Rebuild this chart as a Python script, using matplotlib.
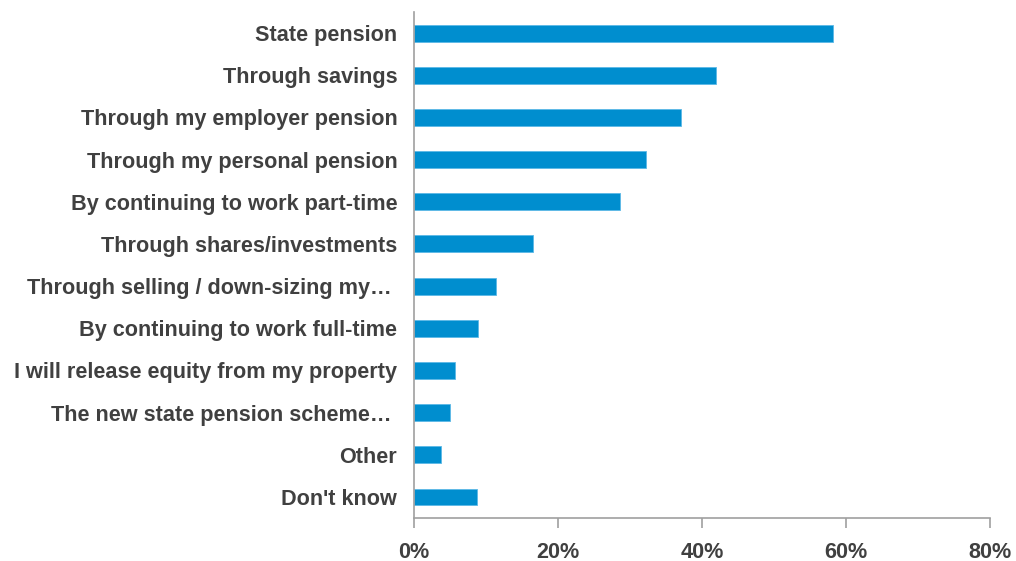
import numpy as np
import matplotlib.pyplot as plt
from matplotlib.ticker import PercentFormatter

# Respuestas (de arriba hacia abajo)
categorias = [
    'State pension',
    'Through savings',
    'Through my employer pension',
    'Through my personal pension',
    'By continuing to work part-time',
    'Through shares/investments',
    'Through selling / down-sizing my… ',
    'By continuing to work full-time',
    'I will release equity from my property',
    'The new state pension scheme… ',
    'Other',
    "Don't know",
]
porcentajes = [58.2, 41.9, 37.1, 32.2, 28.6, 16.5, 11.4, 8.9, 5.7, 5.0, 3.75, 8.75]
ticks_x = [0, 20, 40, 60, 80]

texto = '#404040'
eje = '#a0a0a0'
fuente = ['Liberation Sans', 'DejaVu Sans']

fig = plt.figure(figsize=(10.16, 5.61), dpi=100)
ax = fig.add_axes([0.4075, 0.0766, 0.567, 0.902])

y = np.arange(len(categorias))
ax.barh(y, porcentajes, height=0.4, color='#008ecf', edgecolor='#5cb8e6', linewidth=0.6)

ax.set_ylim(len(categorias) - 0.5, -0.5)
ax.set_xlim(0, 80)
ax.set_yticks(y)
ax.set_yticklabels(categorias, fontsize=15.6, fontweight='bold', color=texto, family=fuente)
ax.tick_params(axis='y', length=0, pad=12)

ax.set_xticks(ticks_x)
ax.xaxis.set_major_formatter(PercentFormatter(decimals=0))
ax.tick_params(axis='x', length=7, color=eje, width=1.2, pad=10, labelsize=15.6, labelcolor=texto)
for lbl in ax.get_xticklabels():
    lbl.set_fontweight('bold')
    lbl.set_family(fuente)

for s in ['top', 'right']:
    ax.spines[s].set_visible(False)
ax.spines['left'].set_color(eje)
ax.spines['bottom'].set_color(eje)
ax.spines['left'].set_linewidth(1.2)
ax.spines['bottom'].set_linewidth(1.2)

fig.savefig('out.png', dpi=100)
